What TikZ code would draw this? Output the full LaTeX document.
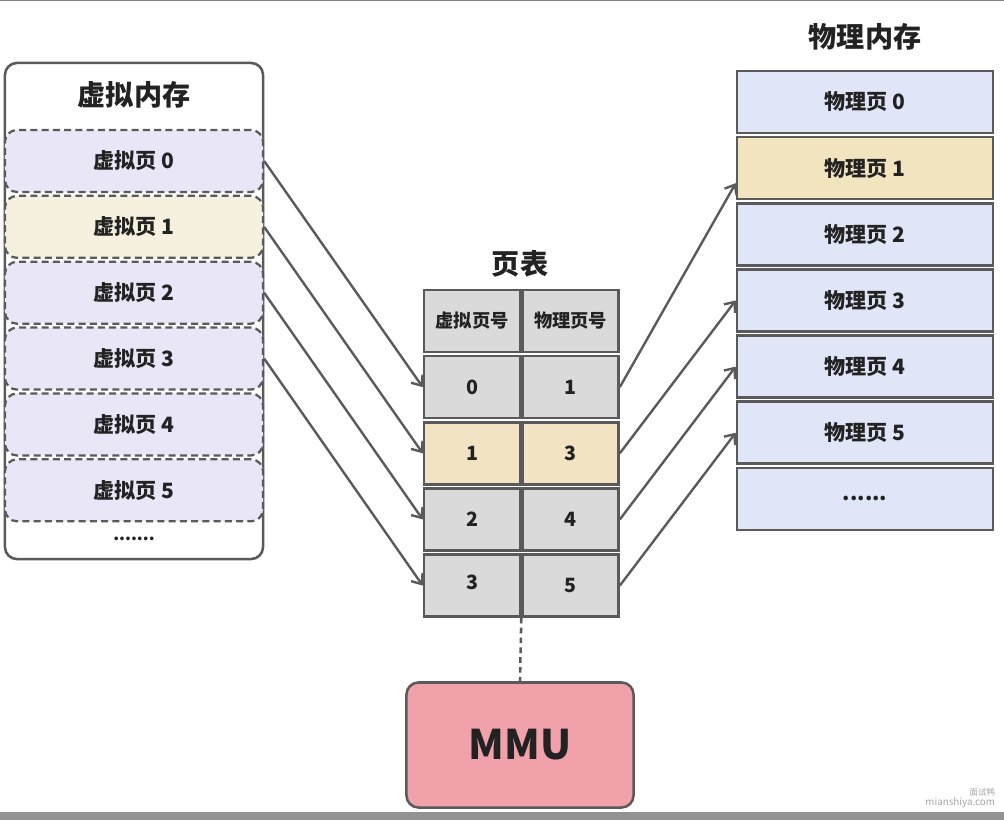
\documentclass[tikz,border=0pt]{standalone}
\usepackage{fontspec}
\setmainfont{Noto Sans CJK SC}
\usepackage{xcolor}
\usetikzlibrary{shapes,arrows,arrows.meta}
\usetikzlibrary{positioning}
\definecolor{edgegray}{HTML}{5A5A5A}
\definecolor{textdark}{HTML}{222222}
\definecolor{vlilac}{HTML}{E8E6F7}
\definecolor{vcream}{HTML}{F6F1DE}
\definecolor{plilac}{HTML}{E0E5F7}
\definecolor{ptan}{HTML}{F3E4C0}
\definecolor{cellgray}{HTML}{D9DAD9}
\definecolor{celltan}{HTML}{F2E3C2}
\definecolor{mmupink}{HTML}{F0A1AA}
\tikzstyle{title} = [font=\fontsize{20}{24}\selectfont\bfseries, text=textdark]
\tikzstyle{container} = [rectangle, draw=edgegray, line width=1.8pt, fill=white,
    rounded corners=0.3cm, minimum width=6.45cm, minimum height=12.4cm]
\tikzstyle{vpage} = [rectangle, draw=edgegray, line width=1.6pt,
    dash pattern=on 5pt off 3pt, fill=vlilac, rounded corners=0.3cm,
    minimum width=6.45cm, minimum height=1.55cm,
    font=\fontsize{15}{18}\selectfont\bfseries, text=textdark]
\tikzstyle{ppage} = [rectangle, draw=edgegray, line width=1.8pt, fill=plilac,
    minimum width=6.4cm, minimum height=1.55cm,
    font=\fontsize{15}{18}\selectfont\bfseries, text=textdark]
\tikzstyle{cell} = [rectangle, draw=edgegray, line width=1.8pt, fill=cellgray,
    minimum width=2.4cm, minimum height=1.55cm,
    font=\fontsize{14}{17}\selectfont\bfseries, text=textdark]
\tikzstyle{mmubox} = [rectangle, draw=edgegray, line width=1.8pt, fill=mmupink,
    rounded corners=0.3cm, minimum width=5.675cm, minimum height=3.125cm,
    font=\fontsize{29}{34}\selectfont\bfseries, text=textdark]
\tikzstyle{line} = [draw=edgegray, line width=1.7pt,
    -{Straight Barb[length=6pt, width=10pt]}]
\tikzstyle{dashline} = [draw=edgegray, line width=1.8pt, dash pattern=on 4pt off 3pt]

\begin{document}
\begin{tikzpicture}[x=0.025cm, y=-0.025cm]
  \useasboundingbox (0,0) rectangle (1004,820);
  \fill [white] (0,0) rectangle (1004,820);
  \draw [gray, line width=1pt] (0,0.5) -- (1004,0.5);
  \fill [gray!85] (0,812) rectangle (1004,820);

  % Virtual memory
  \node [container] (vmem) at (134,311) {};
  \node [title] (vtitle) at (134,95) {虚拟内存};
  \node [vpage] (vp0) at (134,161) {虚拟页 0};
  \node [vpage, fill=vcream, below=0.04cm of vp0] (vp1) {虚拟页 1};
  \node [vpage, below=0.04cm of vp1] (vp2) {虚拟页 2};
  \node [vpage, below=0.04cm of vp2] (vp3) {虚拟页 3};
  \node [vpage, below=0.04cm of vp3] (vp4) {虚拟页 4};
  \node [vpage, below=0.04cm of vp4] (vp5) {虚拟页 5};
  \node [font=\fontsize{12}{14}\selectfont\bfseries, text=textdark] (vdots) at (134,539) {.......};

  % Physical memory
  \node [title] (ptitle) at (865,37) {物理内存};
  \node [ppage] (pp0) at (865,102) {物理页 0};
  \node [ppage, fill=ptan, below=0.04cm of pp0] (pp1) {物理页 1};
  \node [ppage, below=0.04cm of pp1] (pp2) {物理页 2};
  \node [ppage, below=0.04cm of pp2] (pp3) {物理页 3};
  \node [ppage, below=0.04cm of pp3] (pp4) {物理页 4};
  \node [ppage, below=0.04cm of pp4] (pp5) {物理页 5};
  \node [ppage, below=0.04cm of pp5] (pp6) {\raisebox{-0.1cm}{......}};

  % Page table
  \node [title] (ttitle) at (520,264) {页表};
  \node [cell, font=\fontsize{13}{16}\selectfont\bfseries] (h0) at (472,321) {虚拟页号};
  \node [cell, font=\fontsize{13}{16}\selectfont\bfseries, right=0cm of h0] (h1) {物理页号};
  \node [cell, below=0.04cm of h0] (r0a) {0};
  \node [cell, right=0cm of r0a] (r0b) {1};
  \node [cell, fill=celltan, below=0.04cm of r0a] (r1a) {1};
  \node [cell, fill=celltan, right=0cm of r1a] (r1b) {3};
  \node [cell, below=0.04cm of r1a] (r2a) {\raisebox{-0.15cm}{2}};
  \node [cell, right=0cm of r2a] (r2b) {4};
  \node [cell, below=0.04cm of r2a] (r3a) {\raisebox{0.15cm}{3}};
  \node [cell, right=0cm of r3a] (r3b) {5};

  % MMU
  \node [mmubox] (mmu) at (520,745) {MMU};

  % Connectors
  \path [line] (vp0.east) -- (r0a.west);
  \path [line] (vp1.east) -- (r1a.west);
  \path [line] (vp2.east) -- (r2a.west);
  \path [line] (vp3.east) -- (r3a.west);

  \path [line] (r0b.east) -- ([yshift=-0.375cm]pp1.west);
  \path [line] (r1b.east) -- (pp3.west);
  \path [line] (r2b.east) -- (pp4.west);
  \path [line] (r3b.east) -- (pp5.west);

  \path [dashline] (r3a.south east) -- (mmu.north);

  % Watermark
  \node [font=\fontsize{6}{7}\selectfont, text=gray!70, anchor=east] (wm1) at (1000,792) {面试鸭};
  \node [font=\fontsize{7}{8}\selectfont, text=gray!70, anchor=east] (wm2) at (1000,803) {mianshiya.com};
\end{tikzpicture}
\end{document}
